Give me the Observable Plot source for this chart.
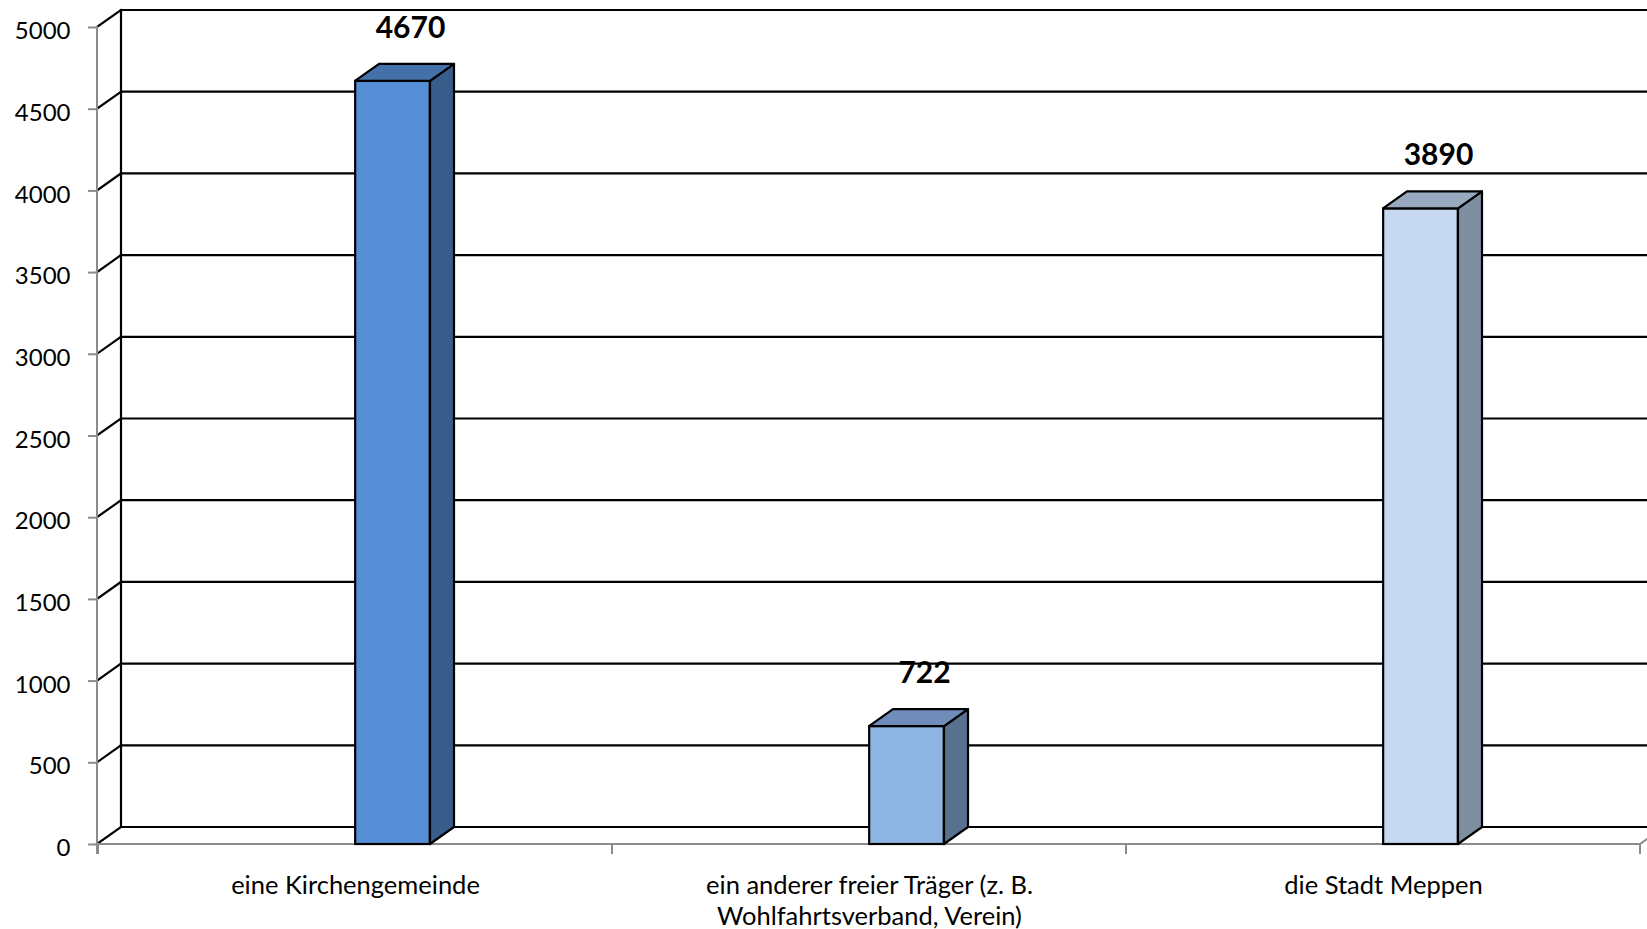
<!DOCTYPE html>
<html>
<head>
<meta charset="utf-8">
<script src="https://cdn.jsdelivr.net/npm/d3@7"></script>
<script src="https://cdn.jsdelivr.net/npm/@observablehq/plot@0.6"></script>
<style>
  html, body { margin: 0; padding: 0; background: #ffffff; }
  #chart { width: 1647px; height: 929px; overflow: hidden; }
</style>
</head>
<body>
<div id="chart"></div>
<script>
// ---- data ----
const categories = [
  "eine Kirchengemeinde",
  "ein anderer freier Träger (z. B. Wohlfahrtsverband, Verein)",
  "die Stadt Meppen"
];
const categoryLabels = [
  "eine Kirchengemeinde",
  "ein anderer freier Träger (z. B.\nWohlfahrtsverband, Verein)",
  "die Stadt Meppen"
];
const values = [4670, 722, 3890];
const valueLabels = ["4670", "722", "3890"];
const yTicks = [0, 500, 1000, 1500, 2000, 2500, 3000, 3500, 4000, 4500, 5000];
const frontColors = ["#558ED5", "#8DB4E2", "#C6D9F1"];
const topColors = ["#4571AA", "#6F8DB8", "#98A9BF"];
const sideColors = ["#385D8A", "#58718F", "#7F8EA0"];

const data = categories.map((c, i) => ({
  category: c,
  value: values[i],
  label: valueLabels[i],
  axisLabel: categoryLabels[i],
  front: frontColors[i],
  top: topColors[i],
  side: sideColors[i]
}));

// ---- 3D styling constants (pixels) ----
const DX = 24, DY = -17;   // depth offset
const BAR_W = 75;          // front face width
const W = 1647, H = 929;
const mL = 97, mR = 7, mT = 27, mB = 85;
const BW = (W - mL - mR) / categories.length;

// back wall, side wall and floor
function walls(index, scales, vals, dims) {
  const {x, y} = scales;
  const left = dims.marginLeft;
  const right = dims.width - dims.marginRight;
  const y0 = y(0);
  const g = d3.create("svg:g").attr("fill", "none").attr("stroke-linecap", "square");
  for (const t of yTicks) {
    g.append("line").attr("x1", left + DX).attr("x2", dims.width)
      .attr("y1", y(t) + DY).attr("y2", y(t) + DY)
      .attr("stroke", "#000").attr("stroke-width", 2.2);
    g.append("line").attr("x1", left).attr("x2", left + DX)
      .attr("y1", y(t)).attr("y2", y(t) + DY)
      .attr("stroke", "#000").attr("stroke-width", 2.2);
  }
  g.append("line").attr("x1", left + DX).attr("x2", left + DX)
    .attr("y1", y(yTicks[yTicks.length - 1]) + DY).attr("y2", y0 + DY)
    .attr("stroke", "#000").attr("stroke-width", 2.2);
  g.append("line").attr("x1", left).attr("x2", left)
    .attr("y1", y(yTicks[yTicks.length - 1])).attr("y2", y0 + 9)
    .attr("stroke", "#8c8c8c").attr("stroke-width", 2);
  g.append("line").attr("x1", left).attr("x2", right)
    .attr("y1", y0).attr("y2", y0)
    .attr("stroke", "#8c8c8c").attr("stroke-width", 2);
  g.append("line").attr("x1", right).attr("x2", right + DX)
    .attr("y1", y0).attr("y2", y0 + DY)
    .attr("stroke", "#8c8c8c").attr("stroke-width", 2);
  const bounds = categories.map(c => x(c)).concat([right]);
  for (const b of bounds) {
    g.append("line").attr("x1", b).attr("x2", b)
      .attr("y1", y0).attr("y2", y0 + 9)
      .attr("stroke", "#8c8c8c").attr("stroke-width", 2);
  }
  return g.node();
}

// side and top faces of the bars
function barDepth(index, scales, vals, dims) {
  const {x, y} = scales;
  const bw = x.bandwidth();
  const y0 = y(0);
  const g = d3.create("svg:g").attr("stroke", "#000").attr("stroke-width", 2.2).attr("stroke-linejoin", "round");
  for (const d of data) {
    const x0 = x(d.category) + bw / 2;
    const x1 = x0 + BAR_W;
    const yv = y(d.value);
    g.append("path")
      .attr("d", `M${x1},${y0}L${x1},${yv}L${x1 + DX},${yv + DY}L${x1 + DX},${y0 + DY}Z`)
      .attr("fill", d.side);
    g.append("path")
      .attr("d", `M${x0},${yv}L${x0 + DX},${yv + DY}L${x1 + DX},${yv + DY}L${x1},${yv}Z`)
      .attr("fill", d.top);
  }
  return g.node();
}

const chart = Plot.plot({
  width: W,
  height: H,
  marginLeft: mL,
  marginRight: mR,
  marginTop: mT,
  marginBottom: mB,
  style: {fontFamily: "Lato, 'Open Sans', sans-serif", background: "#ffffff", color: "#000"},
  x: {type: "band", domain: categories, padding: 0, axis: null},
  y: {domain: [0, 5000], axis: null},
  color: {type: "identity"},
  marks: [
    walls,
    Plot.barY(data, {
      x: "category", y: "value", fill: "front",
      stroke: "#000", strokeWidth: 2.2,
      insetLeft: BW / 2, insetRight: BW / 2 - BAR_W
    }),
    barDepth,
    // tick marks
    Plot.axisY({
      ticks: yTicks, tickSize: 9, label: null,
      tickFormat: () => "", stroke: "#8c8c8c", strokeWidth: 2
    }),
    // tick labels
    Plot.axisY({
      ticks: yTicks, tickSize: 0, tickPadding: 27, label: null, dy: 4,
      tickFormat: d => String(d), fontSize: 24, fill: "#000"
    }),
    Plot.text(data, {
      x: "category", y: 0, text: "axisLabel",
      lineAnchor: "top", dy: 27, fontSize: 25.5, lineHeight: 1.22, fill: "#000"
    }),
    Plot.text(data, {
      x: "category", y: "value", text: "label",
      dx: 55, dy: -53, fontSize: 30, fontWeight: "bold", fill: "#000"
    })
  ]
});
document.getElementById("chart").appendChild(chart);
</script>
</body>
</html>
